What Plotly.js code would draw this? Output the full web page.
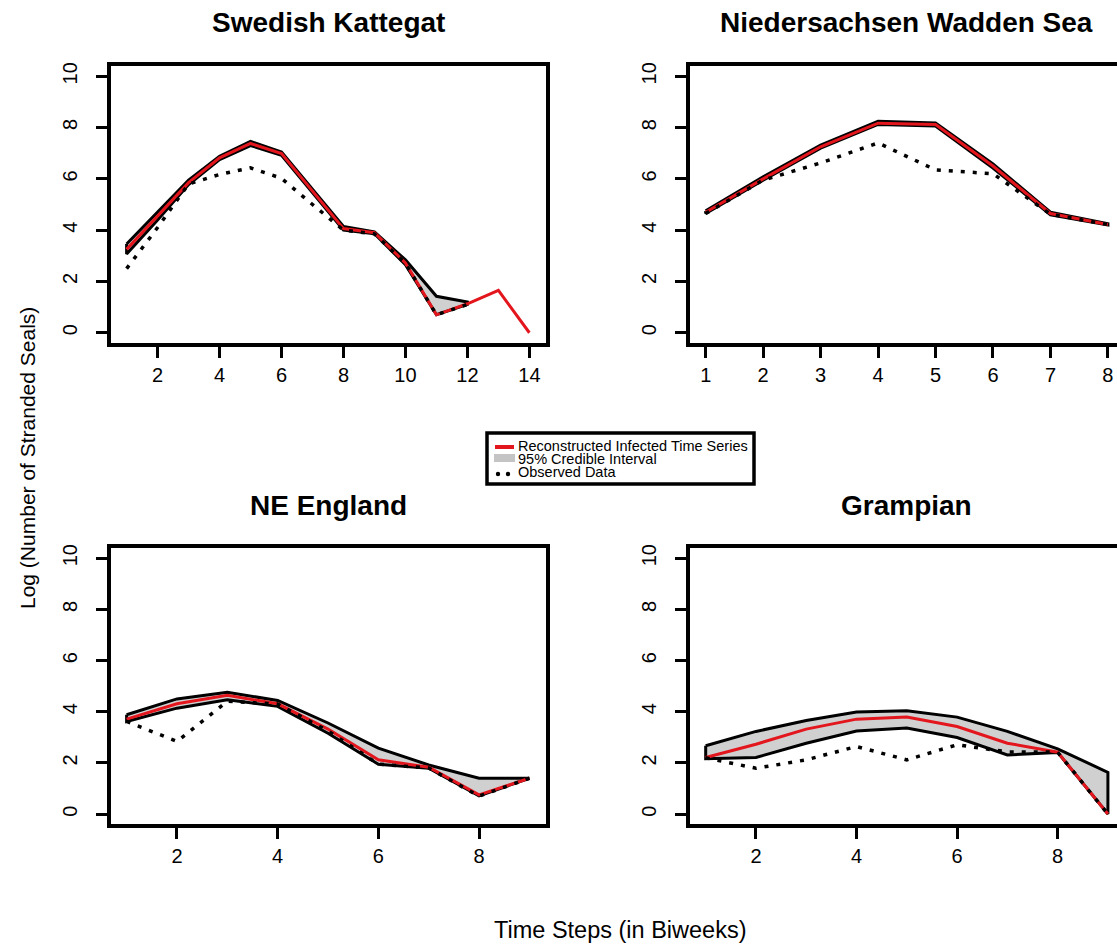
<!DOCTYPE html>
<html>
<head>
<meta charset="utf-8">
<script src="https://cdn.plot.ly/plotly-3.0.1.min.js"></script>
<style>
  html, body { margin: 0; padding: 0; overflow: hidden; background: #ffffff; }
  #chart { width: 1160px; height: 951px; }
</style>
</head>
<body>
<div id="chart"></div>
<script>
// ---- Data: log number of stranded seals per biweekly time step ----

// Swedish Kattegat
const kattegatSteps    = [1, 2, 3, 4, 5, 6, 7, 8, 9, 10, 11, 12, 13, 14];
const kattegatMedian   = [3.25, 4.55, 5.85, 6.82, 7.38, 6.99, 5.52, 4.06, 3.9, 2.72, 0.7, 1.13, 1.65, 0.0];
const kattegatUpper    = [3.46, 4.72, 5.95, 6.88, 7.46, 7.05, 5.6, 4.14, 3.93, 2.84, 1.42, 1.2];
const kattegatLower    = [3.07, 4.4, 5.78, 6.75, 7.3, 6.92, 5.45, 4.0, 3.86, 2.65, 0.7, 1.1];
const kattegatObserved = [2.5, 4.1, 5.8, 6.17, 6.43, 6.02, 5.0, 4.0, 3.85, 2.7, 0.7, 1.1];
const kattegatTicks    = [2, 4, 6, 8, 10, 12, 14];

// Niedersachsen Wadden Sea
const wattSteps    = [1, 2, 3, 4, 5, 6, 7, 8];
const wattMedian   = [4.7, 6.0, 7.25, 8.17, 8.12, 6.5, 4.65, 4.22];
const wattUpper    = [4.75, 6.08, 7.32, 8.25, 8.18, 6.58, 4.7, 4.25];
const wattLower    = [4.65, 5.95, 7.2, 8.12, 8.06, 6.42, 4.6, 4.2];
const wattObserved = [4.65, 5.95, 6.62, 7.4, 6.35, 6.2, 4.62, 4.22];
const wattTicks    = [1, 2, 3, 4, 5, 6, 7, 8];

// NE England
const englandSteps    = [1, 2, 3, 4, 5, 6, 7, 8, 9];
const englandMedian   = [3.71, 4.31, 4.64, 4.31, 3.32, 2.12, 1.83, 0.75, 1.4];
const englandUpper    = [3.88, 4.5, 4.76, 4.44, 3.56, 2.58, 1.92, 1.4, 1.4];
const englandLower    = [3.62, 4.14, 4.47, 4.21, 3.16, 1.95, 1.79, 0.71, 1.4];
const englandObserved = [3.62, 2.84, 4.41, 4.3, 3.25, 1.95, 1.8, 0.7, 1.4];
const englandTicks    = [2, 4, 6, 8];

// Grampian
const grampianSteps    = [1, 2, 3, 4, 5, 6, 7, 8, 9];
const grampianMedian   = [2.21, 2.73, 3.32, 3.71, 3.79, 3.42, 2.77, 2.42, 0.0];
const grampianUpper    = [2.67, 3.23, 3.66, 3.99, 4.04, 3.79, 3.23, 2.55, 1.63];
const grampianLower    = [2.16, 2.21, 2.77, 3.25, 3.36, 2.99, 2.31, 2.41, 0.0];
const grampianObserved = [2.2, 1.79, 2.12, 2.64, 2.12, 2.71, 2.43, 2.42, 0.0];
const grampianTicks    = [2, 4, 6, 8];

const yLimits = [0, 10];
const yTicks  = [0, 2, 4, 6, 8, 10];

// ---- Page geometry (pixels) ----
const W = 1160, H = 951;
const fx = p => p / W;
const fy = p => 1 - p / H;

const RED  = '#e3161d';
const BAND = '#d0d0d0';
const FONT = 'Liberation Sans, Arial, Helvetica, sans-serif';

// R-style axis limits: data range padded by 4% on each side
const pad = (lo, hi) => { const d = (hi - lo) * 0.04; return [lo - d, hi + d]; };

const panels = [
  { title: 'Swedish Kattegat', steps: kattegatSteps, median: kattegatMedian, upper: kattegatUpper,
    lower: kattegatLower, observed: kattegatObserved, ticks: kattegatTicks, box: [110.5, 545.5, 66, 343] },
  { title: 'Niedersachsen Wadden Sea', steps: wattSteps, median: wattMedian, upper: wattUpper,
    lower: wattLower, observed: wattObserved, ticks: wattTicks, box: [689.6, 1124, 66, 343] },
  { title: 'NE England', steps: englandSteps, median: englandMedian, upper: englandUpper,
    lower: englandLower, observed: englandObserved, ticks: englandTicks, box: [110.5, 545.5, 548, 824.3] },
  { title: 'Grampian', steps: grampianSteps, median: grampianMedian, upper: grampianUpper,
    lower: grampianLower, observed: grampianObserved, ticks: grampianTicks, box: [689.6, 1124, 548, 824.3] }
];

const traces = [];
const layout = {
  width: W, height: H,
  margin: { l: 0, r: 0, t: 0, b: 0 },
  paper_bgcolor: '#ffffff', plot_bgcolor: '#ffffff',
  showlegend: false,
  font: { family: FONT, color: '#000000' },
  annotations: [],
  shapes: []
};

const axisCommon = {
  showline: true, linewidth: 4, linecolor: '#000000', mirror: true,
  ticks: 'outside', ticklen: 11, tickwidth: 3, tickcolor: '#000000',
  showgrid: false, zeroline: false, fixedrange: true,
  tickfont: { family: FONT, size: 20, color: '#000000' }
};

panels.forEach((p, i) => {
  const sfx = i === 0 ? '' : String(i + 1);
  const xa = 'x' + sfx, ya = 'y' + sfx;
  const n = p.upper.length;
  const bandX = p.steps.slice(0, n).concat(p.steps.slice(0, n).reverse(), [p.steps[0]]);
  const bandY = p.upper.concat(p.lower.slice().reverse(), [p.upper[0]]);

  traces.push({
    type: 'scatter', mode: 'lines', x: bandX, y: bandY, xaxis: xa, yaxis: ya,
    fill: 'toself', fillcolor: BAND, line: { color: '#000000', width: 3 }, hoverinfo: 'skip'
  });
  traces.push({
    type: 'scatter', mode: 'lines', x: p.steps, y: p.median, xaxis: xa, yaxis: ya,
    line: { color: RED, width: 3 }, hoverinfo: 'skip'
  });
  traces.push({
    type: 'scatter', mode: 'lines', x: p.steps.slice(0, p.observed.length), y: p.observed,
    xaxis: xa, yaxis: ya, line: { color: '#000000', width: 3.5, dash: '4px,8px' }, hoverinfo: 'skip'
  });

  const b = p.box;
  layout['xaxis' + sfx] = Object.assign({}, axisCommon, {
    domain: [fx(b[0]), fx(b[1])], anchor: ya,
    range: pad(p.steps[0], p.steps[p.steps.length - 1]),
    tickmode: 'array', tickvals: p.ticks
  });
  layout['yaxis' + sfx] = Object.assign({}, axisCommon, {
    domain: [fy(b[3]), fy(b[2])], anchor: xa,
    range: pad(yLimits[0], yLimits[1]),
    tickmode: 'array', tickvals: yTicks, tickangle: -90, ticklabelstandoff: 11
  });

  layout.annotations.push({
    xref: 'paper', yref: 'paper', x: fx((b[0] + b[1]) / 2), y: fy(b[2] - 43),
    xanchor: 'center', yanchor: 'middle', showarrow: false,
    text: '<b>' + p.title + '</b>', font: { family: FONT, size: 28, color: '#000000' }
  });
});

// Shared axis titles
layout.annotations.push({
  xref: 'paper', yref: 'paper', x: fx(620), y: fy(930), xanchor: 'center', yanchor: 'middle',
  showarrow: false, text: 'Time Steps (in Biweeks)', font: { family: FONT, size: 23.5, color: '#000000' }
});
layout.annotations.push({
  xref: 'paper', yref: 'paper', x: fx(27), y: fy(458), xanchor: 'center', yanchor: 'middle',
  showarrow: false, textangle: -90, text: 'Log (Number of Stranded Seals)',
  font: { family: FONT, size: 21, color: '#000000' }
});

// Key box between the panel rows
const key = { x0: 487, x1: 754, y0: 433, y1: 484 };
layout.shapes.push({
  type: 'rect', xref: 'paper', yref: 'paper', layer: 'above',
  x0: fx(key.x0), x1: fx(key.x1), y0: fy(key.y1), y1: fy(key.y0),
  line: { color: '#000000', width: 3.5 }, fillcolor: 'rgba(255,255,255,0)'
});
layout.shapes.push({
  type: 'line', xref: 'paper', yref: 'paper', layer: 'above',
  x0: fx(495), x1: fx(514), y0: fy(447), y1: fy(447), line: { color: RED, width: 4 }
});
layout.shapes.push({
  type: 'rect', xref: 'paper', yref: 'paper', layer: 'above',
  x0: fx(494), x1: fx(515), y0: fy(462), y1: fy(454), line: { width: 0 }, fillcolor: '#c4c4c4'
});
[498, 508].forEach(cx => {
  layout.shapes.push({
    type: 'circle', xref: 'paper', yref: 'paper', layer: 'above',
    x0: fx(cx - 2.2), x1: fx(cx + 2.2), y0: fy(474 + 2.2), y1: fy(474 - 2.2),
    line: { width: 0 }, fillcolor: '#000000'
  });
});
const keyLabels = ['Reconstructed Infected Time Series', '95% Credible Interval', 'Observed Data'];
const keyRows = [446, 459, 472];
keyLabels.forEach((t, k) => {
  layout.annotations.push({
    xref: 'paper', yref: 'paper', x: fx(516), y: fy(keyRows[k]), xanchor: 'left', yanchor: 'middle',
    showarrow: false, text: t, font: { family: FONT, size: 14.5, color: '#000000' }
  });
});

Plotly.newPlot('chart', traces, layout, { displayModeBar: false, staticPlot: true });
</script>
</body>
</html>
